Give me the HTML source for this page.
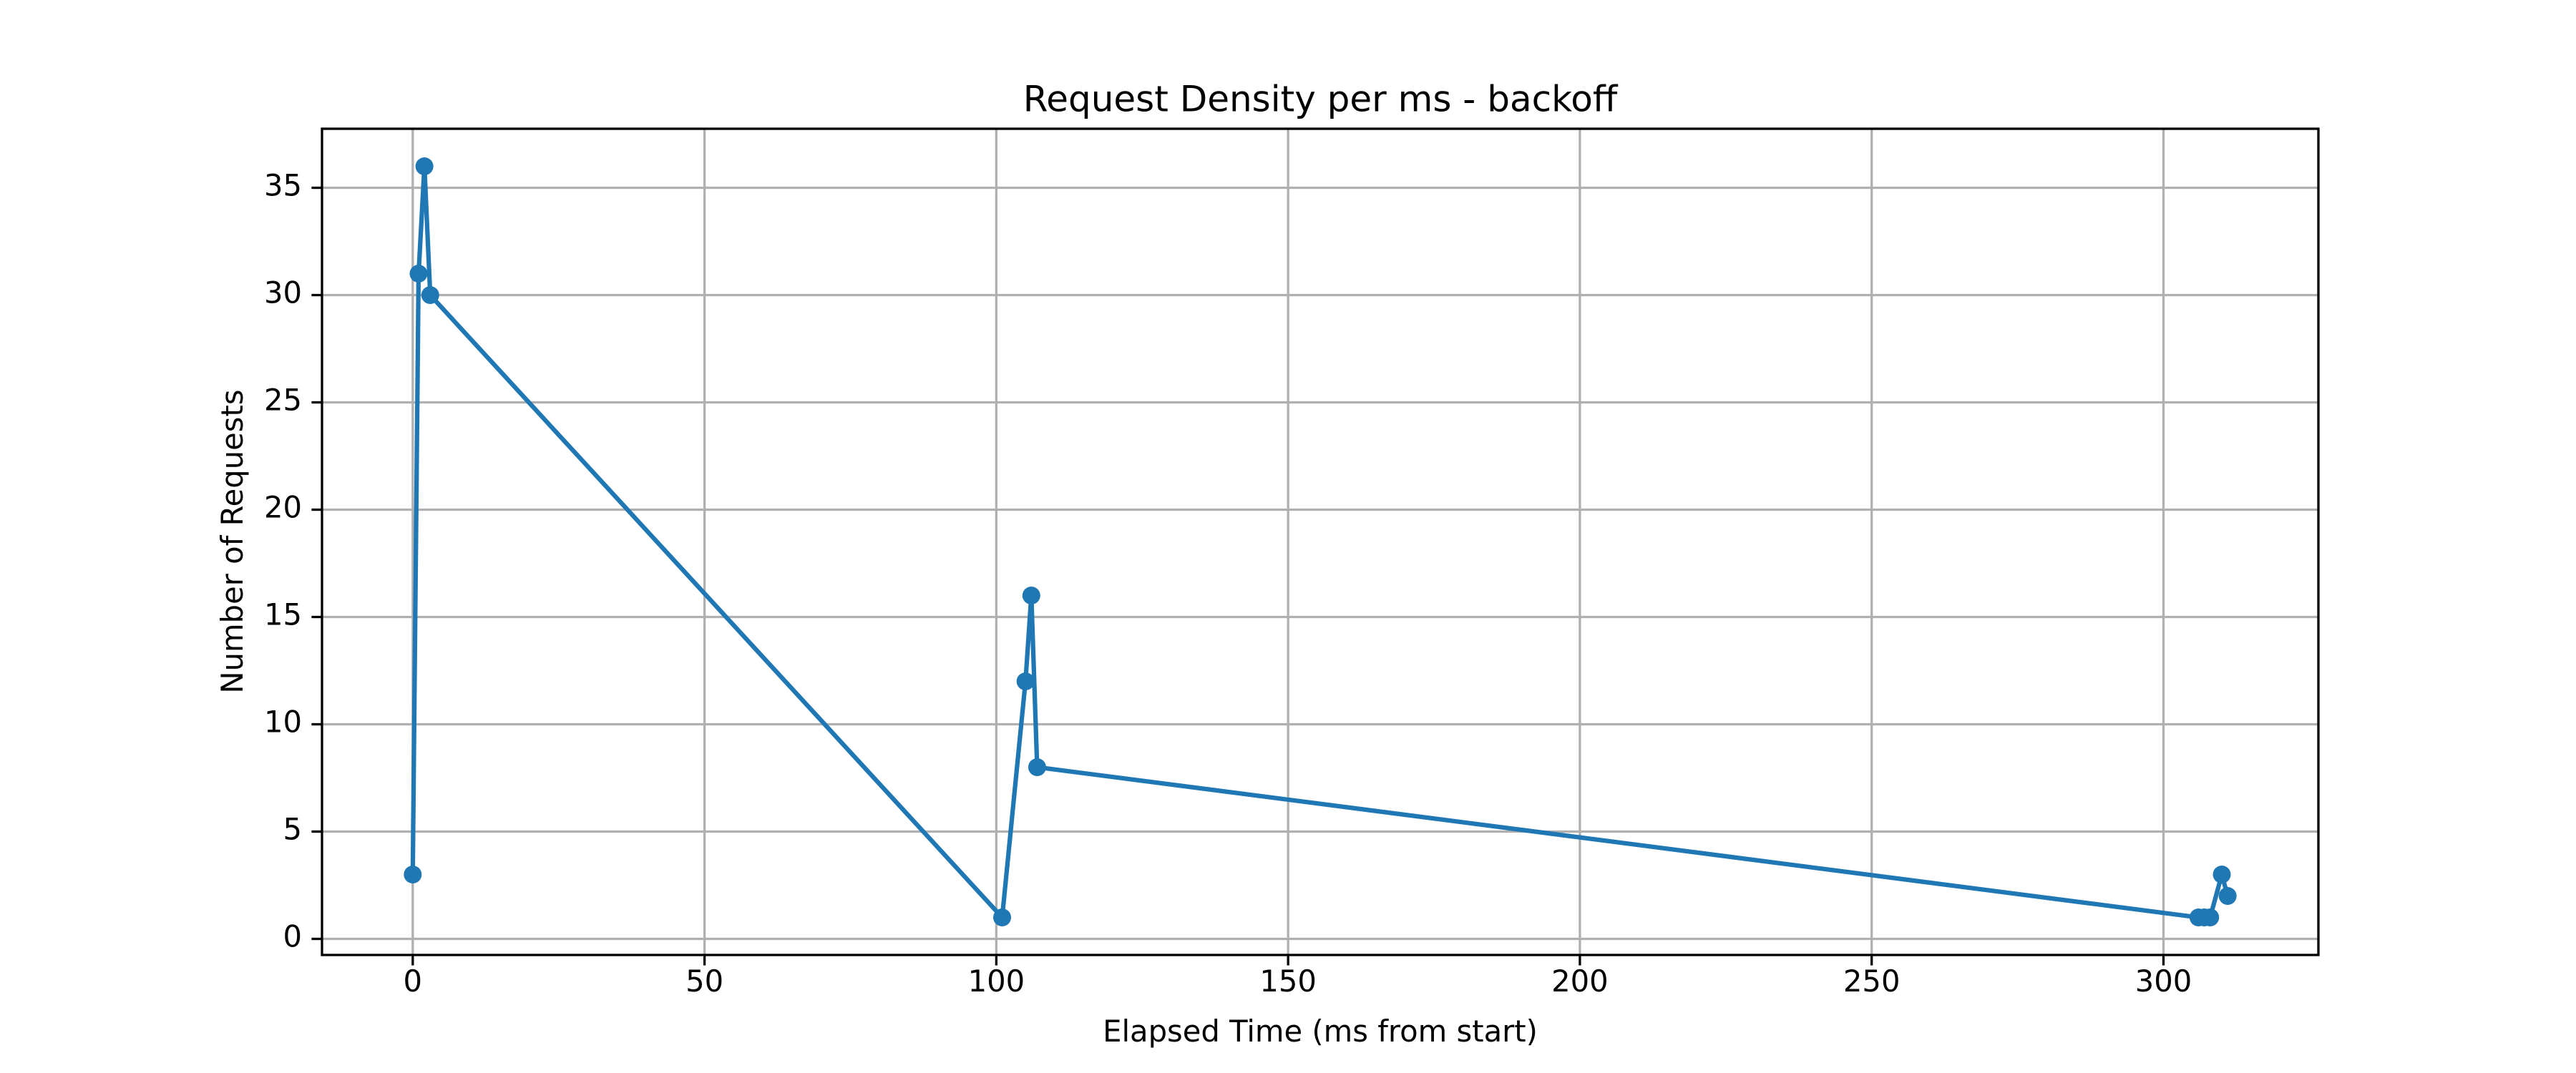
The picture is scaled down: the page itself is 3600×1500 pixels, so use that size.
<!DOCTYPE html>
<html><head><meta charset="utf-8"><style>
html,body{margin:0;padding:0;background:#fff}
svg{display:block;font-family:"DejaVu Sans","Liberation Sans",sans-serif}
</style></head><body>
<svg id="chart" width="3600" height="1500" viewBox="0 0 3600 1500" xmlns="http://www.w3.org/2000/svg">
<rect width="3600" height="1500" fill="#fff"/>
<g id="grid"></g>
<g id="series"></g>
<rect x="450" y="180" width="2790" height="1155" fill="none" stroke="#000" stroke-width="3.3"/>
<g id="xticks"></g>
<g id="yticks"></g>
<text x="1845" y="142" font-size="50" text-anchor="middle" dominant-baseline="middle">Request Density per ms - backoff</text>
<text x="1845" y="1445" font-size="41.7" text-anchor="middle" dominant-baseline="middle">Elapsed Time (ms from start)</text>
<text x="328" y="757" font-size="41.7" text-anchor="middle" dominant-baseline="middle" transform="rotate(-90 328 757)">Number of Requests</text>
</svg>
<script>
const xValues = [0, 1, 2, 3, 101, 105, 106, 107, 306, 307, 308, 310, 311];
const yValues = [3, 31, 36, 30, 1, 12, 16, 8, 1, 1, 1, 3, 2];
const xTicks = [0, 50, 100, 150, 200, 250, 300];
const yTicks = [0, 5, 10, 15, 20, 25, 30, 35];

const NS = "http://www.w3.org/2000/svg";
const L = 450, R = 3240, T = 180, B = 1335;
const xmin0 = Math.min(...xValues), xmax0 = Math.max(...xValues);
const ymin0 = Math.min(...yValues), ymax0 = Math.max(...yValues);
const xm = (xmax0 - xmin0) * 0.05, ym = (ymax0 - ymin0) * 0.05;
const xmin = xmin0 - xm, xmax = xmax0 + xm, ymin = ymin0 - ym, ymax = ymax0 + ym;
const sx = v => L + (v - xmin) / (xmax - xmin) * (R - L);
const sy = v => B - (v - ymin) / (ymax - ymin) * (B - T);
function mk(tag, attrs, parent) {
  const e = document.createElementNS(NS, tag);
  for (const k in attrs) e.setAttribute(k, attrs[k]);
  parent.appendChild(e);
  return e;
}
const grid = document.getElementById('grid');
const xg = document.getElementById('xticks');
const yg = document.getElementById('yticks');
xTicks.forEach(t => {
  const x = sx(t);
  const gl = mk('line', {x1: x, x2: x, y1: T, y2: B, stroke: '#b0b0b0', 'stroke-width': 3.3}, grid);
  
  
  const tk = mk('line', {x1: x, x2: x, y1: B, y2: B + 14.6, stroke: '#000', 'stroke-width': 3.3}, xg);
  
  
  const tx = mk('text', {x: x, y: B + 20, 'font-size': 41.7, 'text-anchor': 'middle', 'dominant-baseline': 'hanging'}, xg);
  tx.textContent = t;
  
  
});
yTicks.forEach(t => {
  const y = sy(t);
  const gl = mk('line', {x1: L, x2: R, y1: y, y2: y, stroke: '#b0b0b0', 'stroke-width': 3.3}, grid);
  
  
  const tk = mk('line', {x1: L - 14.6, x2: L, y1: y, y2: y, stroke: '#000', 'stroke-width': 3.3}, yg);
  
  
  const tx = mk('text', {x: L - 28, y: y, 'font-size': 41.7, 'text-anchor': 'end', 'dominant-baseline': 'middle'}, yg);
  tx.textContent = t;
  
  
});
const sg = document.getElementById('series');
const pts = xValues.map((x, i) => sx(x) + ',' + sy(yValues[i])).join(' ');
const pl = mk('polyline', {points: pts, fill: 'none', stroke: '#1f77b4', 'stroke-width': 6.25, 'stroke-linejoin': 'round', 'stroke-linecap': 'square'}, sg);


xValues.forEach((x, i) => {
  const c = mk('circle', {cx: sx(x), cy: sy(yValues[i]), r: 12.5, fill: '#1f77b4'}, sg);
  
  
});
</script>
</body></html>
